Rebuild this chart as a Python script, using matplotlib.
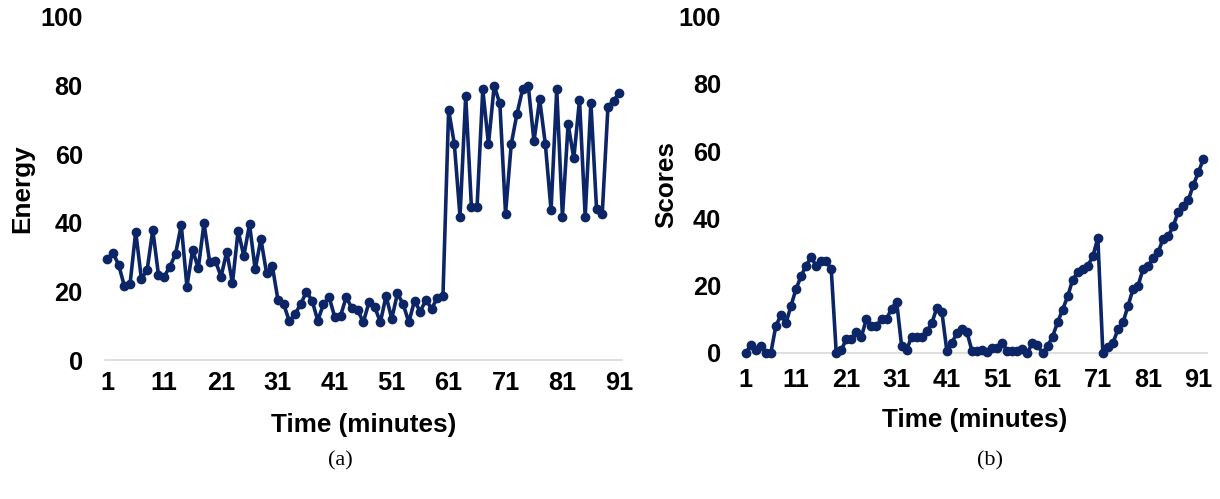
import matplotlib.pyplot as plt

# values
energy = [29.4, 31.3, 27.7, 21.6, 22.1, 37.4, 23.6, 26.2, 37.9, 24.8,
          24.3, 27.2, 30.9, 39.4, 21.4, 32.1, 26.7, 39.9, 28.5, 28.9,
          24.3, 31.6, 22.4, 37.7, 30.3, 39.6, 26.4, 35.3, 25.3, 27.5,
          17.5, 16.3, 11.3, 13.4, 16.3, 19.9, 17.3, 11.5, 16.3, 18.3,
          12.4, 12.9, 18.3, 15.1, 14.6, 11.0, 16.8, 15.5, 11.0, 18.7,
          12.0, 19.4, 16.3, 11.0, 17.3, 14.1, 17.5, 15.0, 18.0, 18.6,
          72.9, 63.0, 41.8, 77.0, 44.7, 44.7, 78.9, 62.9, 79.9, 74.8,
          42.7, 62.9, 71.7, 78.9, 79.9, 63.8, 76.0, 62.9, 43.7, 78.9,
          41.8, 68.8, 58.8, 75.8, 41.8, 75.0, 43.9, 42.7, 73.8, 75.6,
          77.9]

scores = [0, 2.3, 0.8, 2.2, 0, 0, 8.1, 11.2, 8.9, 14.0,
          19.0, 22.8, 26.0, 28.4, 26.0, 27.2, 27.2, 25.0, 0, 0.8,
          4.2, 4.2, 6.1, 4.8, 10.2, 8.1, 8.1, 10.2, 10.2, 13.1,
          15.3, 2.0, 1.0, 4.9, 4.9, 4.9, 6.4, 8.9, 13.4, 12.2,
          0.5, 3.1, 5.9, 7.1, 6.1, 0.5, 0.5, 1.0, 0.2, 1.5,
          1.5, 3.1, 0.5, 0.5, 0.5, 1.2, 0, 3.1, 2.3, 0,
          2.0, 4.9, 9.1, 12.9, 16.8, 21.8, 24.0, 25.0, 25.9, 28.7,
          34.2, 0, 1.8, 3.0, 7.0, 9.1, 14.0, 19.0, 20.0, 25.0,
          25.9, 28.2, 30.0, 34.0, 34.7, 37.8, 42.0, 43.8, 45.5, 50.0,
          53.7, 57.8]

x_ticks = [1, 11, 21, 31, 41, 51, 61, 71, 81, 91]
y_ticks = [0, 20, 40, 60, 80, 100]

LINE_COLOR = '#0b2566'
plt.rcParams['font.family'] = ['Liberation Sans', 'DejaVu Sans']

fig = plt.figure(figsize=(12.2, 4.99), dpi=100)


def style_axes(ax, values, ylabel, xlim, ypad, xpad):
    t = range(1, len(values) + 1)
    ax.plot(t, values, color=LINE_COLOR, lw=2.6, marker='o', ms=6,
            clip_on=False, zorder=3)
    ax.set_xlim(*xlim)
    ax.set_ylim(0, 100)
    ax.set_xticks(x_ticks)
    ax.set_yticks(y_ticks)
    for s in ['top', 'right', 'left']:
        ax.spines[s].set_visible(False)
    ax.spines['bottom'].set_color('#d9d9d9')
    ax.spines['bottom'].set_linewidth(1.2)
    ax.tick_params(axis='both', length=0, labelsize=18.3)
    ax.tick_params(axis='y', pad=ypad)
    ax.tick_params(axis='x', pad=xpad)
    for lab in ax.get_xticklabels() + ax.get_yticklabels():
        lab.set_fontweight('bold')
    ax.set_xlabel('Time (minutes)', fontsize=18.8, fontweight='bold')
    ax.set_ylabel(ylabel, fontsize=18.8, fontweight='bold')


# (a) energy
ax1 = fig.add_axes([105 / 1220, 139 / 499, 517 / 1220, 343 / 499])
style_axes(ax1, energy, 'Energy', (0.6, 91.47), 16, 8)
ax1.xaxis.set_label_coords(0.5, -0.19)
ax1.xaxis.label.set_va('center')
ax1.yaxis.set_label_coords(-0.16, 0.5)
ax1.yaxis.label.set_va('center')

# (b) scores
ax2 = fig.add_axes([742 / 1220, 146 / 499, 465 / 1220, 336.5 / 499])
style_axes(ax2, scores, 'Scores', (0.265, 92.7), 15, 11)
ax2.xaxis.set_label_coords(0.5, -0.2)
ax2.xaxis.label.set_va('center')
ax2.yaxis.set_label_coords(-0.163, 0.5)
ax2.yaxis.label.set_va('center')

fig.text(340 / 1220, 1 - 461 / 499, '(a)', ha='center', va='center',
         fontsize=16, family='Liberation Serif')
fig.text(990 / 1220, 1 - 461 / 499, '(b)', ha='center', va='center',
         fontsize=16, family='Liberation Serif')

plt.savefig('out.png', dpi=100)
